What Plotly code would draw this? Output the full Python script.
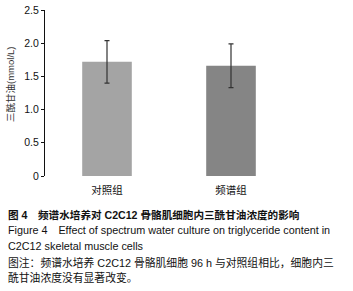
import plotly.graph_objects as go

categories = ["对照组", "频谱组"]
values = [1.72, 1.66]
errors = [0.32, 0.33]
bar_colors = ["#a4a4a4", "#858585"]
y_ticks = [0, 0.5, 1.0, 1.5, 2.0, 2.5]
y_ticktext = ["0", "0.5", "1.0", "1.5", "2.0", "2.5"]
y_title = "三酰甘油(mmol/L)"
caption_lines = [
    ("<b>图 4　频谱水培养对 C2C12 骨骼肌细胞内三酰甘油浓度的影响</b>", 215, 10.6),
    ("Figure 4　Effect of spectrum water culture on triglyceride content in", 230, 10.8),
    ("C2C12 skeletal muscle cells", 246, 10.8),
    ("图注：频谱水培养 C2C12 骨骼肌细胞 96 h 与对照组相比，细胞内三", 262, 10.8),
    ("酰甘油浓度没有显著改变。", 277, 10.8),
]

FONT = "Liberation Sans, Arial, Noto Sans CJK SC, sans-serif"

fig = go.Figure()
fig.add_trace(go.Bar(
    x=categories, y=values,
    marker=dict(color=bar_colors, line=dict(width=0)),
    width=0.4,
    error_y=dict(type="data", array=errors, visible=True, color="#333333", thickness=1.2, width=2.5),
))

W, H = 353, 291
L, R, T, B = 45, 60, 10, 115
pw = W - L - R
ph = H - T - B

def px(x):
    return (x - L) / pw

def py(y):
    return (H - B - y) / ph

annotations = []
for text, yy, fs in caption_lines:
    annotations.append(dict(
        text=text, xref="paper", yref="paper",
        x=px(6), y=py(yy),
        xanchor="left", yanchor="middle", showarrow=False,
        font=dict(family=FONT, size=fs, color="#111111"), align="left",
    ))
annotations.append(dict(
    text=y_title, xref="paper", yref="paper", x=px(11), y=py(85),
    xanchor="center", yanchor="middle", showarrow=False, textangle=-90,
    font=dict(family=FONT, size=9.5, color="#333333"),
))

fig.update_layout(
    width=W, height=H,
    margin=dict(l=L, r=R, t=T, b=B),
    paper_bgcolor="white", plot_bgcolor="white",
    showlegend=False,
    font=dict(family=FONT, size=10, color="#111111"),
    xaxis=dict(showline=False, ticks="", showgrid=False, zeroline=False,
               range=[-0.5, 1.5], tickfont=dict(size=10.5), automargin=False,
               ticklabelstandoff=6),
    yaxis=dict(range=[0, 2.5], tickvals=y_ticks, ticktext=y_ticktext,
               showline=True, linecolor="#111111", linewidth=1,
               ticks="outside", ticklen=3, tickcolor="#111111",
               showgrid=False, zeroline=False, tickfont=dict(size=10.5),
               automargin=False),
    annotations=annotations,
)

fig.write_html("out.html", config={"displayModeBar": False},
               post_script="document.body.style.margin='0';document.body.style.overflow='hidden';")
